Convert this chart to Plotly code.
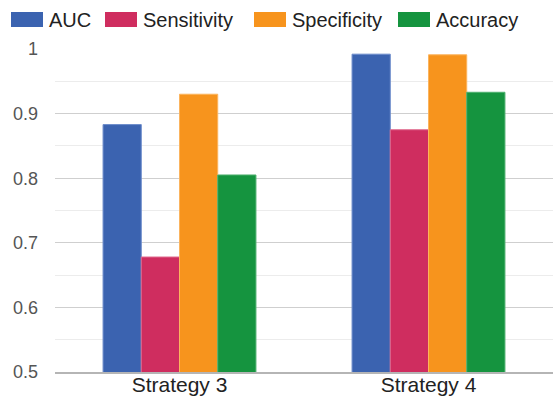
import plotly.graph_objects as go

categories = ["Strategy 3", "Strategy 4"]
series_names = ["AUC", "Sensitivity", "Specificity", "Accuracy"]
auc = [0.883, 0.992]
sensitivity = [0.678, 0.875]
specificity = [0.930, 0.991]
accuracy = [0.805, 0.933]
y_ticks = [0.5, 0.6, 0.7, 0.8, 0.9, 1.0]
y_tick_labels = ["0.5", "0.6", "0.7", "0.8", "0.9", "1"]

values = [auc, sensitivity, specificity, accuracy]
colors = ["#3b63b0", "#cf2d5f", "#f7941d", "#15943f"]
line_colors = ["#6d8ccb", "#e06a8e", "#fbb45e", "#4fb06f"]

W, H = 556, 399
ML, MR, MT, MB = 55, 3, 49, 27
PW, PH = W - ML - MR, H - MT - MB

fig = go.Figure()
for name, vals, c, lc in zip(series_names, values, colors, line_colors):
    fig.add_trace(go.Bar(x=categories, y=vals, name=name,
                         marker=dict(color=c, line=dict(color=lc, width=1)),
                         showlegend=False))

font = "Liberation Sans, Arial, sans-serif"

# custom legend (wide swatches like the original)
legend_x = [11, 105, 254, 398]
shapes = []
annotations = []
for name, c, lx in zip(series_names, colors, legend_x):
    x0 = (lx - ML) / PW
    x1 = (lx + 32 - ML) / PW
    y0 = (H - MB - 27) / PH
    y1 = (H - MB - 12) / PH
    shapes.append(dict(type="rect", xref="paper", yref="paper", x0=x0, x1=x1, y0=y0, y1=y1,
                       fillcolor=c, line=dict(width=0), layer="above"))
    annotations.append(dict(text=name, xref="paper", yref="paper", x=(lx + 36 - ML) / PW,
                            y=(H - MB - 19.5) / PH, xanchor="left", yanchor="middle", showarrow=False,
                            font=dict(family=font, size=20, color="#222222")))

fig.update_layout(
    width=W, height=H,
    margin=dict(l=ML, r=MR, t=MT, b=MB, autoexpand=False),
    paper_bgcolor="white", plot_bgcolor="white",
    barmode="group", bargap=0.386, bargroupgap=0.0,
    shapes=shapes, annotations=annotations,
    showlegend=False,
)
fig.update_yaxes(
    range=[0.5, 1.0], tickvals=y_ticks, ticktext=y_tick_labels,
    showgrid=True, gridcolor="#cfcfcf", gridwidth=1,
    minor=dict(dtick=0.05, tick0=0.5, showgrid=True, gridcolor="#ececec", gridwidth=1),
    zeroline=False, automargin=False,
    tickfont=dict(family=font, size=18, color="#555555"),
    ticklabelstandoff=16, showline=False,
)
fig.update_xaxes(
    showgrid=False, showline=True, linecolor="#b5b5b5", linewidth=1.5,
    automargin=False,
    tickfont=dict(family=font, size=21, color="#222222"),
    ticklabelstandoff=-7,
)
fig.write_html("out.html")
